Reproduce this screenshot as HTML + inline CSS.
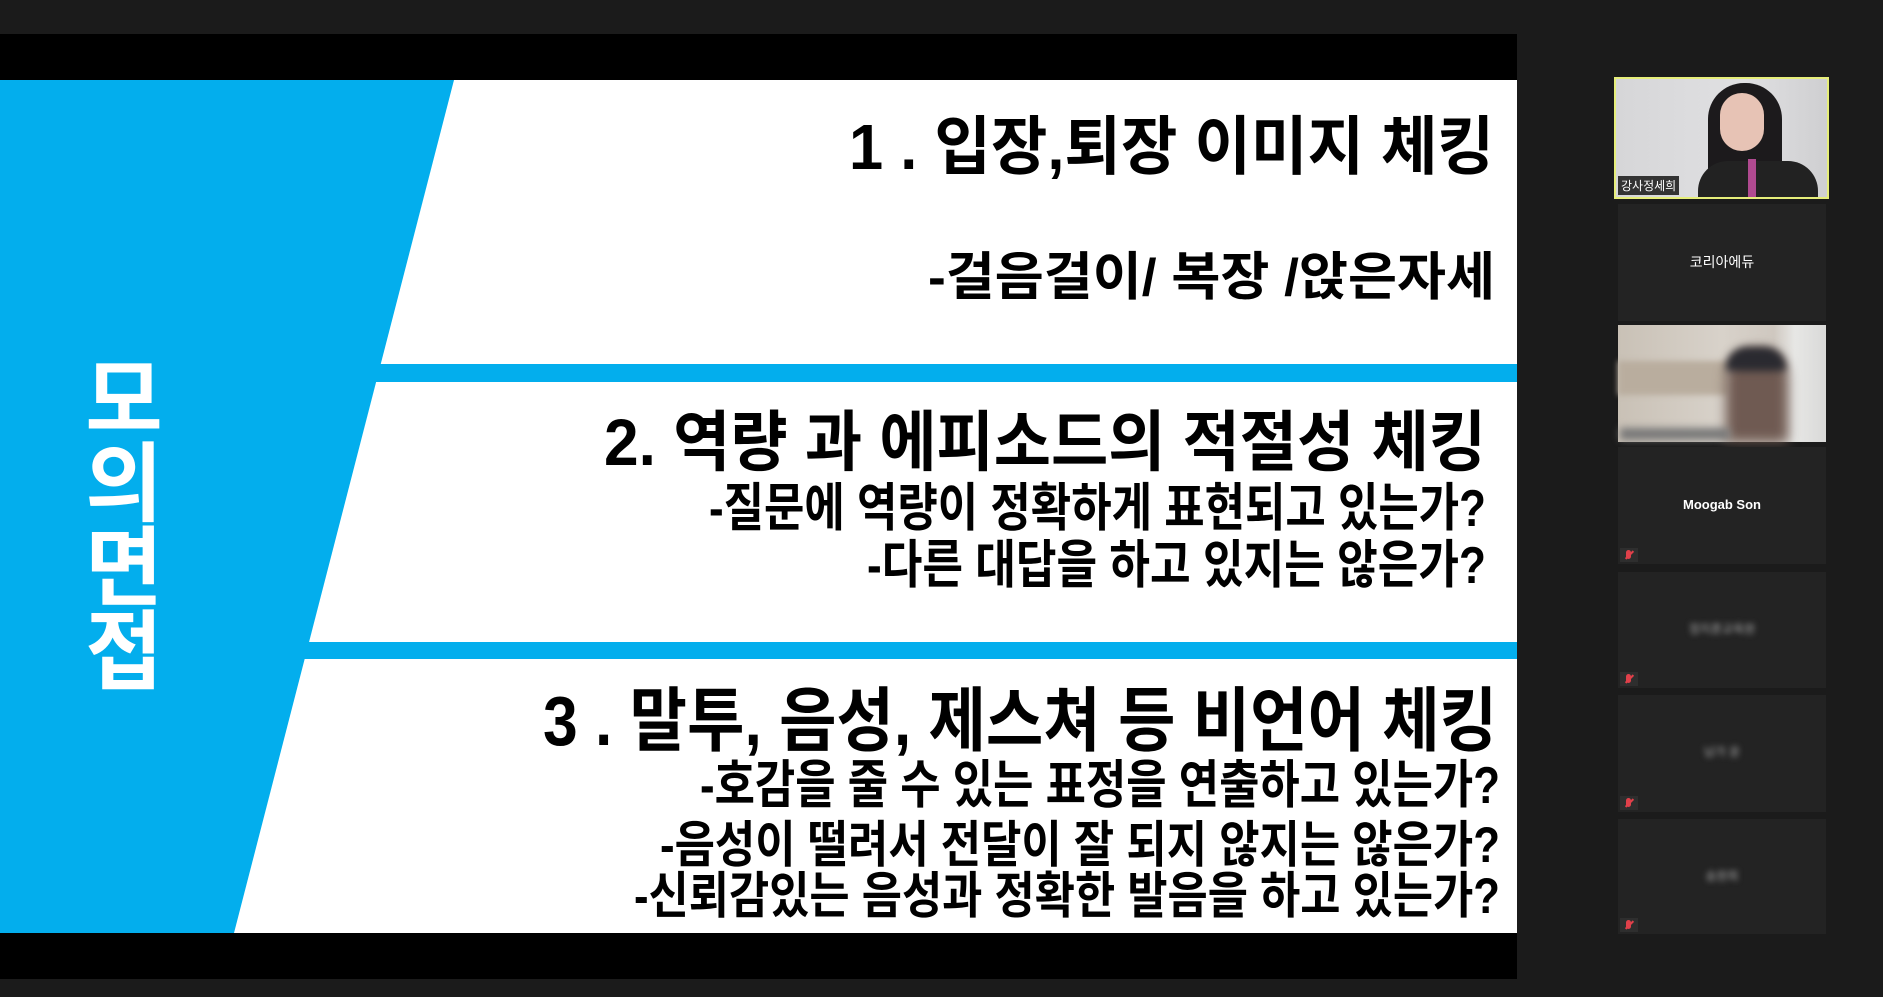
<!DOCTYPE html>
<html><head><meta charset="utf-8"><style>
html,body{margin:0;padding:0;background:#1b1b1b;width:1883px;height:997px;overflow:hidden;font-family:"Liberation Sans","Noto Sans CJK KR",sans-serif}
.tile{position:absolute;left:1618px;width:208px;background:#232323}
.nm{position:absolute;left:0;right:0;text-align:center;color:#fff;font-size:14px}
.blur{filter:blur(3px);color:#aaa}
.mic{position:absolute;left:2px;bottom:2px;width:18px;height:14px;background:#2e2e2e}
.mic:after{content:"";position:absolute;left:4px;top:6px;width:11px;height:2px;background:#e0404a;transform:rotate(-45deg)}
.mic:before{content:"";position:absolute;left:6px;top:2px;width:5px;height:9px;border-radius:3px;background:#e0404a}
</style></head><body>
<svg width="1883" height="997" style="position:absolute;left:0;top:0">
<rect x="0" y="34" width="1517" height="945" fill="#000"/>
<rect x="0" y="80" width="1517" height="853" fill="#fff"/>
<polygon points="0,80 454,80 234,933 0,933" fill="#03aeed"/>
<rect x="300" y="364" width="1217" height="18" fill="#03aeed"/>
<rect x="250" y="642" width="1267" height="17" fill="#03aeed"/>
<g fill="#fff" font-family="Liberation Sans,Noto Sans CJK KR,sans-serif" font-weight="bold" font-size="80" text-anchor="middle">
<text transform="translate(124,430) scale(1.05,1.08)">모</text>
<text transform="translate(124,514) scale(1.05,1.08)">의</text>
<text transform="translate(124,598) scale(1.05,1.08)">면</text>
<text transform="translate(124,682) scale(1.05,1.08)">접</text>
</g>
<g fill="#000" font-family="Liberation Sans,Noto Sans CJK KR,sans-serif" font-weight="bold">
<text x="849" y="169" font-size="64" textLength="645" lengthAdjust="spacingAndGlyphs">1 . 입장,퇴장 이미지 체킹</text>
<text x="928" y="295" font-size="52" textLength="567" lengthAdjust="spacingAndGlyphs">-걸음걸이/ 복장 /앉은자세</text>
<text x="604" y="465" font-size="66" textLength="882" lengthAdjust="spacingAndGlyphs">2. 역량 과 에피소드의 적절성 체킹</text>
<text x="709" y="526" font-size="52" textLength="777" lengthAdjust="spacingAndGlyphs">-질문에 역량이 정확하게 표현되고 있는가?</text>
<text x="867" y="583" font-size="52" textLength="619" lengthAdjust="spacingAndGlyphs">-다른 대답을 하고 있지는 않은가?</text>
<text x="543" y="745" font-size="70" textLength="954" lengthAdjust="spacingAndGlyphs">3 . 말투, 음성, 제스쳐 등 비언어 체킹</text>
<text x="700" y="803" font-size="52" textLength="800" lengthAdjust="spacingAndGlyphs">-호감을 줄 수 있는 표정을 연출하고 있는가?</text>
<text x="660" y="862" font-size="50" textLength="840" lengthAdjust="spacingAndGlyphs">-음성이 떨려서 전달이 잘 되지 않지는 않은가?</text>
<text x="634" y="913" font-size="50" textLength="866" lengthAdjust="spacingAndGlyphs">-신뢰감있는 음성과 정확한 발음을 하고 있는가?</text>
</g>
</svg>

<div style="position:absolute;left:1614px;top:77px;width:211px;height:118px;border:2px solid #e6ee7a;background:linear-gradient(90deg,#d6d6d8,#e0e0e2 60%,#cfcfd1)">
  <div style="position:absolute;left:92px;top:4px;width:74px;height:114px;background:#1c1a1c;border-radius:36px 36px 6px 6px"></div>
  <div style="position:absolute;left:104px;top:14px;width:44px;height:58px;background:#e7c3b5;border-radius:22px"></div>
  <div style="position:absolute;left:82px;top:82px;width:120px;height:36px;background:#222;border-radius:30px 30px 0 0"></div>
  <div style="position:absolute;left:132px;top:80px;width:8px;height:38px;background:#b04a90"></div>
  <div style="position:absolute;left:2px;bottom:2px;background:#333;color:#fff;font-size:12px;padding:1px 3px">강사정세희</div>
</div>
<div class="tile" style="top:204px;height:117px"><div class="nm" style="top:48px">코리아에듀</div></div>
<div class="tile" style="top:325px;height:117px;background:linear-gradient(90deg,#c9c1b6,#d8d2ca 50%,#cfc8c0 75%,#e7e7e5 85%,#d9d9d8)">
  <div style="position:absolute;left:0;top:36px;width:110px;height:34px;background:#b9ad9e;filter:blur(3px)"></div>
  <div style="position:absolute;left:108px;top:24px;width:62px;height:93px;background:#6f5a52;border-radius:28px 28px 0 0;filter:blur(6px)"></div>
  <div style="position:absolute;left:108px;top:22px;width:60px;height:24px;background:#2a2a30;border-radius:28px 28px 4px 4px;filter:blur(4px)"></div>
  <div style="position:absolute;left:2px;bottom:2px;width:110px;height:12px;background:#777;filter:blur(4px)"></div>
</div>
<div class="tile" style="top:447px;height:117px"><div class="nm" style="top:50px;font-weight:bold;font-size:13px">Moogab Son</div><div class="mic"></div></div>
<div class="tile" style="top:572px;height:116px"><div class="nm blur" style="top:48px;font-size:12px">정지훈교육원</div><div class="mic"></div></div>
<div class="tile" style="top:695px;height:117px"><div class="nm blur" style="top:48px;font-size:12px">남가 윤</div><div class="mic"></div></div>
<div class="tile" style="top:819px;height:115px"><div class="nm blur" style="top:48px;font-size:12px">송원희</div><div class="mic"></div></div>
</body></html>
